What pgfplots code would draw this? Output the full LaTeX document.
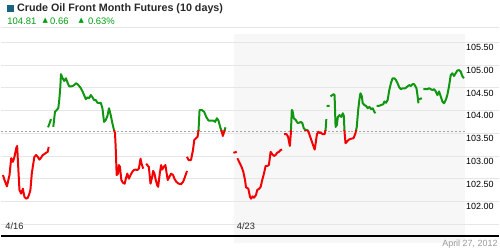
\documentclass[border=0pt]{standalone}
\usepackage{pgfplots}
\pgfplotsset{compat=1.18}
\usepackage{pgfplotstable}
\usepackage{fontspec}
\setmainfont{Liberation Sans}
\newfontfamily\dejavu{DejaVu Sans}
\definecolor{upgreen}{RGB}{16,150,16}
\definecolor{downred}{RGB}{245,0,0}
\definecolor{txtgreen}{RGB}{0,160,20}
\definecolor{gridc}{RGB}{230,230,230}
\definecolor{shadebg}{RGB}{247,247,247}
\definecolor{icon}{RGB}{24,99,127}
\definecolor{titlec}{RGB}{40,40,40}
\definecolor{dashc}{RGB}{165,165,165}

\pgfplotstableread{
x y
1.7 102.58
3.3 102.47
5.7 102.33
8.3 102.58
10.0 102.95
11.7 102.87
13.3 102.98
15.0 103.17
16.0 103.22
16.7 102.91
18.3 102.25
20.0 102.17
21.7 102.28
23.3 102.10
25.0 102.06
26.7 102.08
28.3 102.17
29.3 102.25
30.7 102.61
31.7 102.76
33.3 102.98
35.0 103.02
36.7 102.98
38.3 102.92
40.0 102.96
41.7 103.02
43.3 103.04
45.0 103.07
46.7 103.09
47.7 103.20
nan nan
47.0 103.63
48.3 103.70
50.0 103.81
nan nan
52.3 103.64
54.0 103.97
55.7 104.01
57.3 104.05
58.3 104.23
59.3 104.49
60.0 104.80
61.7 104.71
63.3 104.65
65.0 104.71
66.7 104.61
68.3 104.53
70.0 104.53
71.7 104.54
73.3 104.56
75.0 104.60
76.7 104.58
78.3 104.54
80.0 104.49
81.7 104.42
83.3 104.34
85.0 104.25
86.7 104.29
88.3 104.27
90.0 104.34
91.7 104.29
93.3 104.23
95.0 104.23
96.7 104.17
98.3 104.17
100.0 104.17
101.7 104.05
103.3 103.75
105.0 103.79
106.7 103.88
108.3 104.05
110.0 103.90
111.7 103.72
113.3 103.57
114.3 103.51
115.0 103.20
116.0 102.58
117.3 102.61
118.3 102.80
119.3 102.76
120.7 102.47
122.3 102.41
124.0 102.39
125.7 102.54
126.7 102.61
128.3 102.50
130.0 102.58
131.7 102.65
133.3 102.69
135.0 102.70
136.7 102.69
138.3 102.72
140.0 102.94
141.0 102.83
142.7 102.72
nan nan
145.7 102.83
146.7 102.80
148.3 102.76
150.0 102.39
151.7 102.54
152.7 102.67
154.0 102.61
155.0 102.50
156.7 102.36
157.7 102.32
159.3 102.61
160.7 102.80
161.7 102.70
163.3 102.76
165.0 102.80
166.0 102.65
167.3 102.47
169.0 102.54
170.7 102.61
172.7 102.58
174.0 102.50
176.0 102.43
178.3 102.39
180.7 102.38
182.7 102.43
184.0 102.50
185.3 102.58
186.7 102.67
nan nan
186.7 102.98
188.3 102.91
190.7 102.91
192.7 103.13
194.0 103.35
195.7 103.39
197.3 103.42
198.3 103.57
199.3 104.01
201.7 104.01
204.0 103.97
206.0 103.86
208.3 103.78
210.7 103.78
213.3 103.78
215.0 103.75
216.7 103.83
218.3 103.78
220.0 103.64
221.7 103.53
222.7 103.44
224.0 103.53
225.3 103.63
nan nan
233.3 103.07
236.7 103.09
nan nan
237.3 102.95
240.0 102.83
241.7 102.75
243.3 102.65
245.0 102.47
246.0 102.31
248.3 102.28
250.0 102.10
251.0 102.06
252.7 102.11
254.0 102.08
256.0 102.14
257.3 102.25
259.3 102.28
260.7 102.32
262.3 102.47
264.0 102.61
265.7 102.78
267.3 102.78
269.0 102.80
270.7 103.09
272.3 103.04
274.0 103.00
275.7 103.02
277.3 103.07
279.0 103.09
280.7 103.13
282.3 103.14
nan nan
284.3 103.48
286.7 103.48
288.3 103.42
290.0 103.22
291.0 103.48
292.0 104.01
292.7 104.00
294.0 103.83
296.0 103.79
297.7 103.73
299.3 103.73
301.0 103.75
302.7 103.72
304.0 103.61
305.7 103.57
307.7 103.57
309.3 103.50
311.0 103.39
312.7 103.28
315.0 103.14
316.0 103.28
317.3 103.48
318.7 103.53
320.0 103.51
321.7 103.50
323.3 103.48
325.0 103.48
326.0 103.58
326.7 103.81
nan nan
327.0 104.10
330.0 104.10
nan nan
331.0 104.31
332.7 104.34
334.0 104.36
335.0 104.34
336.0 103.64
337.3 103.68
338.3 103.86
340.0 103.90
341.7 103.86
343.3 103.94
344.3 103.88
345.0 103.53
346.0 103.28
347.3 103.31
349.3 103.36
351.7 103.38
354.0 103.39
356.0 103.50
357.3 103.64
358.7 104.01
360.0 104.25
361.0 104.38
362.3 104.32
363.3 104.16
365.0 104.12
366.7 104.10
368.3 104.05
370.0 104.08
371.7 104.03
373.3 104.05
375.0 103.97
376.0 103.94
nan nan
377.3 104.10
379.3 104.10
381.7 104.12
384.0 104.14
385.0 104.20
386.7 104.17
388.3 104.23
390.0 104.45
391.7 104.61
393.3 104.71
395.0 104.71
396.7 104.67
398.3 104.60
400.0 104.51
401.7 104.47
403.3 104.49
406.0 104.49
408.3 104.53
410.0 104.56
411.7 104.54
413.3 104.58
415.0 104.58
416.0 104.54
417.3 104.49
418.3 104.34
419.3 104.16
nan nan
420.0 104.25
422.7 104.27
nan nan
424.3 104.47
426.7 104.47
428.3 104.47
430.0 104.49
431.7 104.47
433.3 104.45
435.0 104.47
436.7 104.42
438.3 104.34
440.0 104.42
441.7 104.31
443.3 104.20
445.0 104.16
446.7 104.23
448.3 104.34
450.0 104.53
451.7 104.78
453.3 104.82
455.0 104.76
456.7 104.82
458.3 104.88
460.0 104.89
461.7 104.86
463.3 104.76
465.0 104.71
}\prices

\begin{document}
\begin{tikzpicture}[x=1pt,y=1pt]
\begin{axis}[
  set layers,
  at={(0,12.7)}, anchor=south west, scale only axis,
  width=500pt, height=209.6pt,
  xmin=0, xmax=500, ymin=101.084, ymax=105.675,
  axis line style={draw=none},
  tick style={draw=none},
  major tick length=0pt,
  xtick=\empty,
  ytick={101.5,102,102.5,103,103.5,104,104.5,105,105.5},
  yticklabels={,102.00,102.50,103.00,103.50,104.00,104.50,105.00,105.50},
  yticklabel pos=right,
  ymajorgrids, grid style={gridc, line width=0.8pt},
  yticklabel style={anchor=north west, inner sep=0pt, xshift=-33pt, yshift=-2pt,
    font=\fontsize{9}{10}\selectfont, text=black},
  /pgf/number format/assume math mode=true,
  unbounded coords=jump,
]
\begin{pgfonlayer}{axis background}
\fill[fill=shadebg] (axis cs:233.5,101.084) rectangle (axis cs:466,105.675);
\end{pgfonlayer}
\addplot[dashc, dash pattern=on 2pt off 2pt, line width=0.8pt] coordinates {(0,103.55) (466,103.55)};
\begin{scope}
\clip (axis cs:0,103.55) rectangle (axis cs:500,105.675);
\addplot[upgreen, line width=2pt, line join=round] table {\prices};
\end{scope}
\begin{scope}
\clip (axis cs:0,101.084) rectangle (axis cs:500,103.55);
\addplot[downred, line width=2pt, line join=round] table {\prices};
\end{scope}
\end{axis}
% frame lines
\draw[gridc, line width=0.8pt] (0,222.3) -- (500,222.3);
\draw[black, line width=2.5pt] (0,12.7) -- (500,12.7);
% header
\fill[icon] (5.3,238) rectangle (12.7,245.3);
\node[anchor=base west, inner sep=0pt, text=titlec, font=\bfseries\fontsize{10.8}{12}\selectfont] at (15.7,238) {Crude Oil Front Month Futures (10 days)};
\node[anchor=base west, inner sep=0pt, text=txtgreen, font=\fontsize{9.5}{11}\selectfont] at (6,225.3) {104.81};
\node[anchor=base west, inner sep=0pt, text=txtgreen, font=\dejavu\fontsize{7}{8}\selectfont] at (41.3,227.6) {▲};
\node[anchor=base west, inner sep=0pt, text=txtgreen, font=\fontsize{9.5}{11}\selectfont] at (49,225.3) {0.66};
\node[anchor=base west, inner sep=0pt, text=txtgreen, font=\dejavu\fontsize{7}{8}\selectfont] at (77.6,227.6) {▲};
\node[anchor=base west, inner sep=0pt, text=txtgreen, font=\fontsize{9.5}{11}\selectfont] at (87,225.3) {0.63\%};
% x labels
\node[anchor=base west, inner sep=0pt, text=titlec, font=\fontsize{9.3}{10}\selectfont] at (4,19) {4/16};
\node[anchor=base west, inner sep=0pt, text=titlec, font=\fontsize{9.3}{10}\selectfont] at (236.7,19) {4/23};
% date
\node[anchor=base east, inner sep=0pt, text=gray!80, font=\fontsize{9}{10}\selectfont] at (499,2.5) {April 27, 2012};
\path (0,0) rectangle (500,250);
\end{tikzpicture}
\end{document}
